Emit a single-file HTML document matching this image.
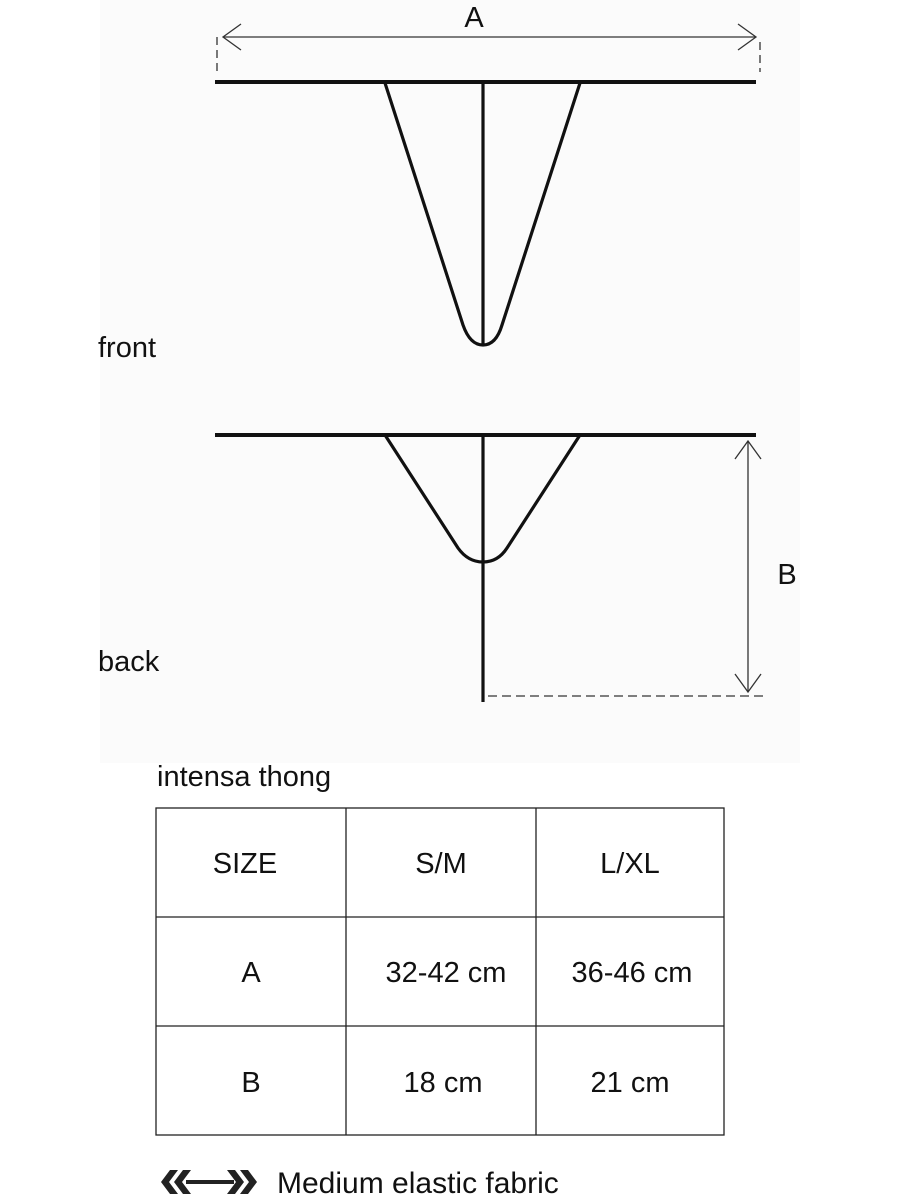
<!DOCTYPE html>
<html><head><style>
body{margin:0;background:#fff;width:900px;height:1200px;overflow:hidden;font-family:"Liberation Sans",sans-serif;}
svg{position:absolute;left:0;top:0}
</style></head><body>
<svg width="900" height="1200" viewBox="0 0 900 1200">
<rect x="100" y="0" width="700" height="763" fill="#fbfbfb"/>
<g font-family="Liberation Sans, sans-serif" fill="#111">
<text x="474" y="27" font-size="29" text-anchor="middle">A</text>
<text x="98" y="357" font-size="29">front</text>
<text x="98" y="671" font-size="29">back</text>
<text x="787" y="584" font-size="29" text-anchor="middle">B</text>
<text x="157" y="786" font-size="29">intensa thong</text>
<text x="245" y="873" font-size="29" text-anchor="middle">SIZE</text>
<text x="441" y="873" font-size="29" text-anchor="middle">S/M</text>
<text x="630" y="873" font-size="29" text-anchor="middle">L/XL</text>
<text x="251" y="982" font-size="29" text-anchor="middle">A</text>
<text x="446" y="982" font-size="29" text-anchor="middle">32-42 cm</text>
<text x="632" y="982" font-size="29" text-anchor="middle">36-46 cm</text>
<text x="251" y="1092" font-size="29" text-anchor="middle">B</text>
<text x="443" y="1092" font-size="29" text-anchor="middle">18 cm</text>
<text x="630" y="1092" font-size="29" text-anchor="middle">21 cm</text>
<text x="277" y="1193" font-size="30">Medium elastic fabric</text>
</g>
<g stroke="#333" fill="none" stroke-width="1.3">
<line x1="224" y1="37" x2="755" y2="37"/>
<polyline points="241,24 223,37 241,50"/>
<polyline points="738,24 756,37 738,50"/>
<line x1="217" y1="37" x2="217" y2="72" stroke-dasharray="8,5"/>
<line x1="760" y1="42" x2="760" y2="72" stroke-dasharray="8,5"/>
<line x1="748" y1="441" x2="748" y2="692"/>
<polyline points="735,459 748,441 761,459"/>
<polyline points="735,674 748,692 761,674"/>
<line x1="488" y1="696" x2="766" y2="696" stroke-dasharray="9,5"/>
</g>
<g stroke="#111" fill="none" stroke-width="4">
<line x1="215" y1="82" x2="756" y2="82"/>
<line x1="215" y1="435" x2="756" y2="435"/>
</g>
<g stroke="#111" fill="none" stroke-width="3.2">
<path d="M385,83 L463,325 Q470,345 483,345 Q496,345 502,325 L580,83"/>
<line x1="483" y1="83" x2="483" y2="345"/>
<path d="M385,435 L458,548 Q468,562 483,562 Q498,562 507,548 L580,435"/>
<line x1="483" y1="435" x2="483" y2="702"/>
</g>
<g stroke="#222" fill="none" stroke-width="1.3">
<rect x="156" y="808" width="568" height="327"/>
<line x1="156" y1="917" x2="724" y2="917"/>
<line x1="156" y1="1026" x2="724" y2="1026"/>
<line x1="346" y1="808" x2="346" y2="1135"/>
<line x1="536" y1="808" x2="536" y2="1135"/>
</g>
<g fill="#222">
<polygon points="170,1170 178,1170 169,1182 178,1194 170,1194 161,1182"/>
<polygon points="183,1170 191,1170 182,1182 191,1194 183,1194 174,1182"/>
<polygon points="240,1170 248,1170 257,1182 248,1194 240,1194 249,1182"/>
<polygon points="227,1170 235,1170 244,1182 235,1194 227,1194 236,1182"/>
<rect x="186" y="1180" width="48" height="4"/>
</g>
</svg>
</body></html>
